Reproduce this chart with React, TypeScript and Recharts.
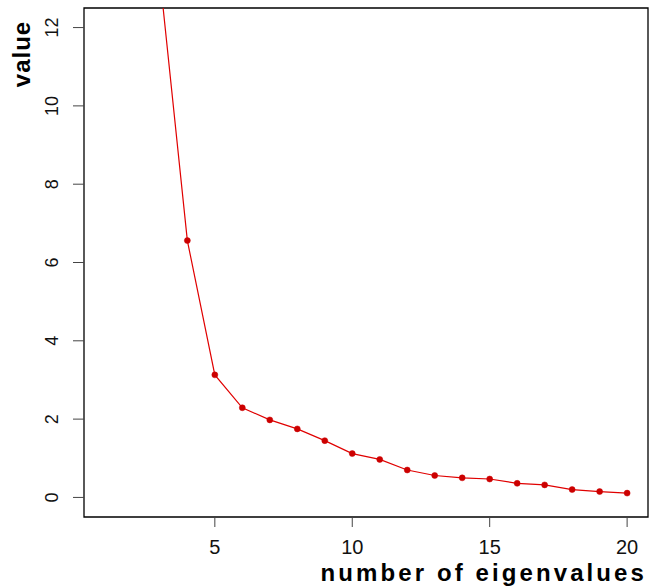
import { LineChart, Line, XAxis, YAxis, ReferenceArea } from "recharts";

// scree plot: eigenvalue index vs eigenvalue
const eigenIndex = [1, 2, 3, 4, 5, 6, 7, 8, 9, 10, 11, 12, 13, 14, 15, 16, 17, 18, 19, 20];
const eigenValues = [
  38.5, 19.2, 13.3, 6.56, 3.13, 2.29, 1.98, 1.75, 1.45, 1.12, 0.97, 0.7, 0.56, 0.5, 0.47, 0.36,
  0.32, 0.2, 0.15, 0.11,
];
const xTicks = [5, 10, 15, 20];
const yTicks = [0, 2, 4, 6, 8, 10, 12];
const xTitle = "number of eigenvalues";
const yTitle = "value";

const data = eigenIndex.map((n, i) => ({ n, value: eigenValues[i] }));

const FONT = "'Liberation Sans', Arial, Helvetica, sans-serif";
const X_DOMAIN: [number, number] = [0.24, 20.76];
const Y_DOMAIN: [number, number] = [-0.5, 12.5];

function YTick(props: any) {
  const { x, y, payload } = props;
  return (
    <text
      x={x}
      y={y}
      transform={`rotate(-90, ${x}, ${y})`}
      textAnchor="middle"
      fontSize={18}
      fontFamily={FONT}
      fill="#111"
    >
      {payload.value}
    </text>
  );
}

export default function App() {
  return (
    <div style={{ position: "absolute", left: 0, top: 0, width: 649, height: 588, background: "#fff" }}>
      <LineChart
        width={649}
        height={588}
        data={data}
        margin={{ top: 8, right: 1, left: 0, bottom: 0 }}
      >
        <XAxis
          dataKey="n"
          type="number"
          domain={X_DOMAIN}
          allowDataOverflow
          ticks={xTicks}
          height={71}
          axisLine={false}
          tickLine={{ stroke: "#444" }}
          tickSize={10}
          tickMargin={13}
          tick={{ fill: "#111", fontSize: 20, fontFamily: FONT }}
        />
        <YAxis
          dataKey="value"
          type="number"
          domain={Y_DOMAIN}
          allowDataOverflow
          ticks={yTicks}
          width={84}
          axisLine={false}
          tickLine={{ stroke: "#444" }}
          tickSize={11}
          tickMargin={15}
          tick={<YTick />}
        />
        <ReferenceArea
          x1={X_DOMAIN[0]}
          x2={X_DOMAIN[1]}
          y1={Y_DOMAIN[0]}
          y2={Y_DOMAIN[1]}
          fill="none"
          stroke="#000"
          strokeWidth={1.3}
          ifOverflow="visible"
        />
        <Line
          dataKey="value"
          stroke="#E00000"
          strokeWidth={1.2}
          dot={{ r: 3, fill: "#CC0000", stroke: "#CC0000", strokeWidth: 0.5 }}
          activeDot={false}
          isAnimationActive={false}
        />
      </LineChart>
      <svg
        width={649}
        height={588}
        style={{ position: "absolute", left: 0, top: 0, pointerEvents: "none" }}
      >
        <text
          x={647}
          y={581}
          textAnchor="end"
          fontSize={24}
          fontWeight="bold"
          letterSpacing={3.1}
          fontFamily={FONT}
          fill="#000"
        >
          {xTitle}
        </text>
        <text
          x={30}
          y={54}
          transform="rotate(-90, 30, 54)"
          textAnchor="middle"
          fontSize={24}
          fontWeight="bold"
          letterSpacing={1}
          fontFamily={FONT}
          fill="#000"
        >
          {yTitle}
        </text>
      </svg>
    </div>
  );
}
